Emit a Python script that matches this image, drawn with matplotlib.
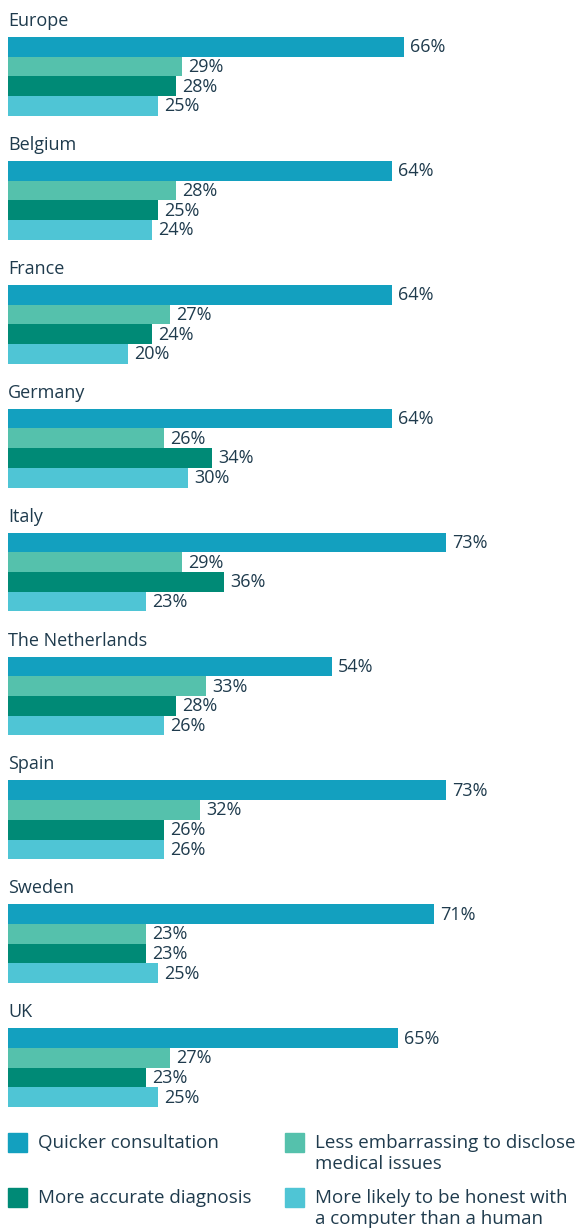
import matplotlib.pyplot as plt
from matplotlib.patches import Rectangle

countries = ["Europe", "Belgium", "France", "Germany", "Italy",
             "The Netherlands", "Spain", "Sweden", "UK"]
quicker = [66, 64, 64, 64, 73, 54, 73, 71, 65]
less_embarrassing = [29, 28, 27, 26, 29, 33, 32, 23, 27]
more_accurate = [28, 25, 24, 34, 36, 28, 26, 23, 23]
more_honest = [25, 24, 20, 30, 23, 26, 26, 25, 25]

series_labels = ["Quicker consultation",
                 "Less embarrassing to disclose\nmedical issues",
                 "More accurate diagnosis",
                 "More likely to be honest with\na computer than a human"]
colors = ["#13A0BF", "#55C1AC", "#008A76", "#4FC5D5"]
text_color = "#1F3B4D"

plt.rcParams["font.family"] = ["Open Sans", "DejaVu Sans"]

W, H = 576, 1229
fig = plt.figure(figsize=(W / 100, H / 100), dpi=100)
ax = fig.add_axes([0, 0, 1, 1])
px_per_pct = 6.0
ax.set_xlim(-8 / px_per_pct, (W - 8) / px_per_pct)
ax.set_ylim(H, 0)
ax.axis("off")

group_top = 37
group_pitch = 123.9
bar_h = 19.7

series = [quicker, less_embarrassing, more_accurate, more_honest]
for g, name in enumerate(countries):
    top = group_top + g * group_pitch
    ax.text(0, top - 16, name, fontsize=13, color=text_color,
            va="center", ha="left")
    for i, vals in enumerate(series):
        yc = top + bar_h * (i + 0.5)
        ax.barh(yc, vals[g], height=bar_h, color=colors[i], left=0)
        ax.text(vals[g] + 1.0, yc + 0.5, f"{vals[g]}%", fontsize=13,
                color=text_color, va="center", ha="left")

# legend, two columns
legend_pos = [(8, 1133), (285, 1133), (8, 1188), (285, 1188)]
for (x, y), lab, c in zip(legend_pos, series_labels, colors):
    fig.patches.append(Rectangle((x / W, 1 - (y + 19) / H), 19 / W, 19 / H,
                                 transform=fig.transFigure, color=c))
    fig.text((x + 30) / W, 1 - (y + 1) / H, lab, fontsize=13.5,
             color=text_color, va="top", ha="left", linespacing=1.2)

fig.savefig("out.png", dpi=100)
